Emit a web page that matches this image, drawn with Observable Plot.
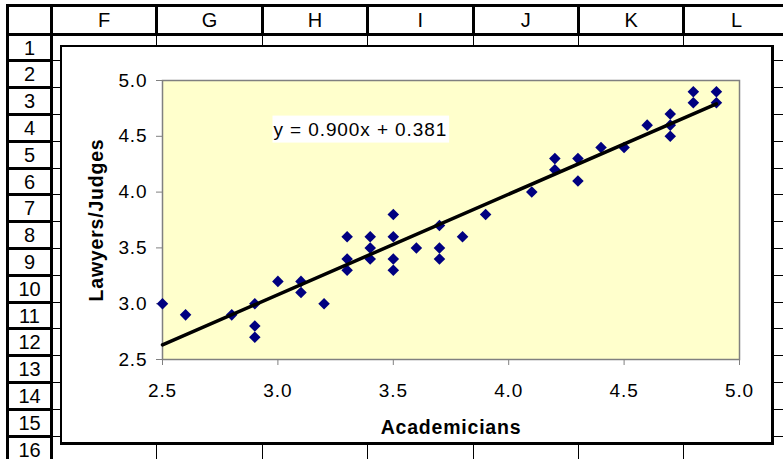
<!DOCTYPE html>
<html>
<head>
<meta charset="utf-8">
<script src="https://cdn.jsdelivr.net/npm/d3@7"></script>
<script src="https://cdn.jsdelivr.net/npm/@observablehq/plot@0.6"></script>
<style>
  html, body { margin: 0; padding: 0; background: #fff; }
  #sheet { position: relative; width: 783px; height: 459px; overflow: hidden; font-family: "Liberation Sans", Arial, sans-serif; }
  .ln { position: absolute; background: #000; }
  .hd { position: absolute; font-size: 20px; color: #000; text-align: center; line-height: 1; }
  #chartbox { position: absolute; left: 60px; top: 45px; width: 714px; height: 400px; box-sizing: border-box;
    background: #fff; border: 2px solid #000; border-right-width: 3px; border-bottom-width: 3px; }
  #plot { position: absolute; left: 0; top: 0; }
  #plot text { letter-spacing: 0.9px; }
  #plot g[aria-label="x-axis label"], #plot g[aria-label="y-axis label"] { font-weight: bold; font-size: 19.5px; }
  #plot g[aria-label="x-axis label"] text, #plot g[aria-label="y-axis label"] text { letter-spacing: 0.8px; }
</style>
</head>
<body>
<div id="sheet"><div id="chartbox"></div><div id="plot"></div></div>
<script>
// ---- data ----
const columnLetters = ["F", "G", "H", "I", "J", "K", "L"];
const rowNumbers = [1, 2, 3, 4, 5, 6, 7, 8, 9, 10, 11, 12, 13, 14, 15, 16];
const academicians = [2.5, 2.6, 2.8, 2.9, 2.9, 2.9, 3.0, 3.1, 3.1, 3.2, 3.3, 3.3, 3.3, 3.4, 3.4, 3.4,
  3.5, 3.5, 3.5, 3.5, 3.6, 3.7, 3.7, 3.7, 3.8, 3.9, 4.1, 4.2, 4.2, 4.3, 4.3, 4.4, 4.5, 4.6, 4.7, 4.7, 4.7,
  4.8, 4.8, 4.9, 4.9];
const lawyersJudges = [3.0, 2.9, 2.9, 3.0, 2.8, 2.7, 3.2, 3.2, 3.1, 3.0, 3.6, 3.4, 3.3, 3.6, 3.5, 3.4,
  3.8, 3.6, 3.4, 3.3, 3.5, 3.7, 3.5, 3.4, 3.6, 3.8, 4.0, 4.3, 4.2, 4.3, 4.1, 4.4, 4.4, 4.6, 4.7, 4.6, 4.5,
  4.9, 4.8, 4.9, 4.8];
const xTicks = [2.5, 3.0, 3.5, 4.0, 4.5, 5.0];
const yTicks = [2.5, 3.0, 3.5, 4.0, 4.5, 5.0];
const slope = 0.900;
const intercept = 0.381;
const xTitle = "Academicians";
const yTitle = "Lawyers/Judges";

// ---- spreadsheet grid ----
const sheet = document.getElementById("sheet");
const chartbox = document.getElementById("chartbox");
function box(x, y, w, h, cls) {
  const d = document.createElement("div");
  d.className = cls || "ln";
  Object.assign(d.style, {left: x + "px", top: y + "px", width: w + "px", height: h + "px"});
  sheet.insertBefore(d, chartbox);
  return d;
}
const colStart = 51.5, colW = 105.4, rowStart = 34, rowH = 26.8;
// thin body grid
columnLetters.forEach((c, i) => { const b = colStart + (i + 1) * colW; box(b - 0.5, 35, 1, 430); });
rowNumbers.forEach((r, i) => { const y = rowStart + (i + 1) * rowH; box(53, y - 0.5, 740, 1); });
// thick header lines
box(6, 4, 777, 3);
box(6, 32.5, 777, 3);
box(6, 4, 3, 455);
box(50, 4, 3, 455);
columnLetters.forEach((c, i) => { const b = colStart + (i + 1) * colW; box(b - 1.5, 4, 3, 31); });
rowNumbers.forEach((r, i) => { const y = rowStart + (i + 1) * rowH; box(6, y - 1.5, 47, 3); });
// header texts
columnLetters.forEach((c, i) => {
  const d = box(colStart + i * colW, 10, colW, 20, "hd"); d.textContent = c;
});
rowNumbers.forEach((r, i) => {
  const d = box(9, rowStart + i * rowH + 3.5, 41, 20, "hd"); d.textContent = r;
});

// ---- chart ----
const points = academicians.map((x, i) => ({x, y: lawyersJudges[i]}));
const trend = d3.extent(academicians).map(x => ({x, y: slope * x + intercept}));
const equation = `y = ${slope.toFixed(3)}x + ${intercept.toFixed(3)}`;
const fmt = d3.format(".1f");

const chart = Plot.plot({
  width: 783,
  height: 459,
  marginLeft: 162,
  marginRight: 44,
  marginTop: 80,
  marginBottom: 100,
  style: {background: "transparent", fontFamily: "'Liberation Sans', Arial, sans-serif", color: "#000", overflow: "visible"},
  x: {domain: [2.5, 5.0]},
  y: {domain: [2.5, 5.0]},
  marks: [
    Plot.frame({fill: "#FFFFCC", stroke: "#808080", strokeWidth: 1.5}),
    Plot.axisX({ticks: xTicks, tickFormat: fmt, tickSize: 6, tickPadding: 18, stroke: "#808080", fill: "#000",
      fontSize: 19, label: xTitle, labelAnchor: "center", labelOffset: 74, labelArrow: "none"}),
    Plot.axisY({ticks: yTicks, tickFormat: fmt, tickSize: 6, tickPadding: 9, stroke: "#808080", fill: "#000",
      fontSize: 19, label: yTitle, labelAnchor: "center", labelOffset: 73, labelArrow: "none"}),
    Plot.dot(points, {x: "x", y: "y", symbol: "diamond2", r: 5.2, fill: "#000080", stroke: "none"}),
    Plot.line(trend, {x: "x", y: "y", stroke: "#000", strokeWidth: 3.5}),
    Plot.text([equation], {text: d => d, frameAnchor: "top-left", dx: 111, dy: 49, textAnchor: "start",
      lineAnchor: "middle", fontSize: 19, fill: "#000"})
  ]
});
document.getElementById("plot").appendChild(chart);

// white box behind the equation text
const eqText = Array.from(chart.querySelectorAll('g[aria-label="text"] text')).find(t => t.textContent === equation);
if (eqText) {
  const bb = eqText.getBBox();
  const rect = document.createElementNS("http://www.w3.org/2000/svg", "rect");
  rect.setAttribute("x", bb.x - 1);
  rect.setAttribute("y", bb.y - 3);
  rect.setAttribute("width", bb.width + 3);
  rect.setAttribute("height", bb.height + 6);
  rect.setAttribute("fill", "#fff");
  const g = eqText.parentNode;
  const tr = eqText.getAttribute("transform");
  if (tr) rect.setAttribute("transform", tr);
  g.insertBefore(rect, eqText);
}
</script>
</body>
</html>
